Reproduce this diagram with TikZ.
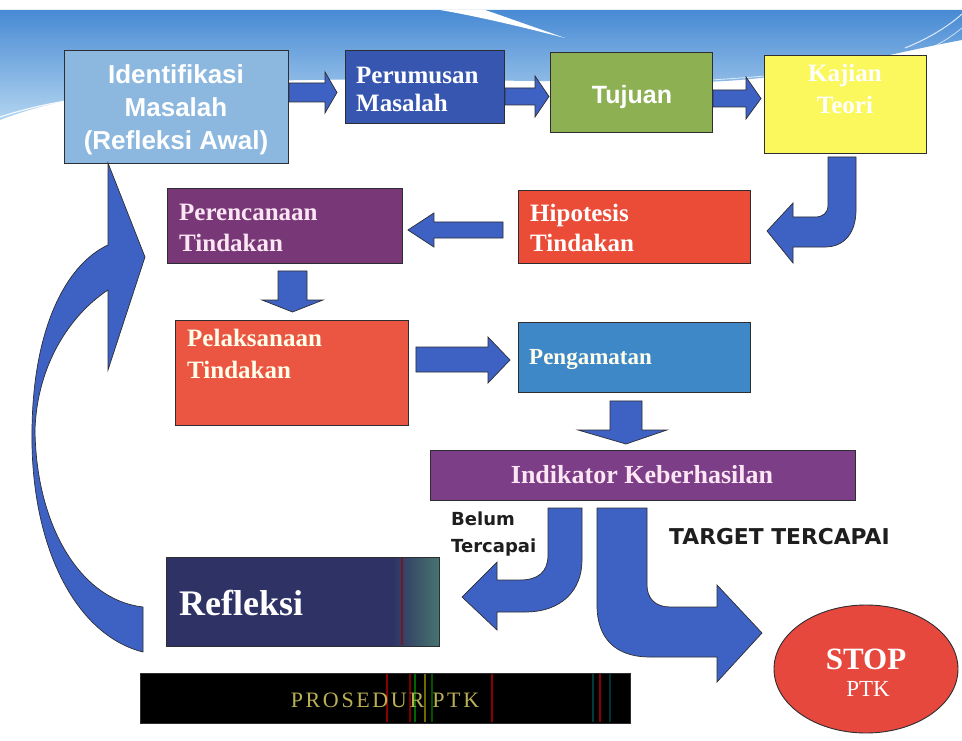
\documentclass[tikz,border=0pt]{standalone}
\usepackage{fontspec}
\setmainfont{Liberation Serif}
\newfontfamily\arialf{Liberation Sans}
\newfontfamily\tahf{DejaVu Sans}
\newfontfamily\barf{Liberation Serif}[LetterSpace=12]
\usetikzlibrary{shapes.geometric,calc}
\definecolor{bannertop}{RGB}{72,138,212}
\definecolor{bannerbot}{RGB}{178,212,240}
\definecolor{ablue}{RGB}{62,98,196}
\definecolor{cid}{RGB}{140,184,224}
\definecolor{cpr}{RGB}{55,86,176}
\definecolor{ctj}{RGB}{140,176,82}
\definecolor{ckj}{RGB}{250,248,92}
\definecolor{chp}{RGB}{234,76,56}
\definecolor{cpc}{RGB}{120,56,120}
\definecolor{cpl}{RGB}{234,86,66}
\definecolor{cpg}{RGB}{62,136,200}
\definecolor{cik}{RGB}{125,62,136}
\definecolor{crf}{RGB}{46,50,100}
\definecolor{crfend}{RGB}{70,115,110}
\definecolor{cstop}{RGB}{230,72,62}
\definecolor{bartext}{RGB}{185,175,85}
\definecolor{edge}{RGB}{45,45,50}
\definecolor{lbl}{RGB}{30,30,30}
\begin{document}
\begin{tikzpicture}[x=1pt,y=-1pt,
  box/.style={draw=edge, line width=0.9pt, inner sep=0pt, anchor=north west},
  blk/.style={fill=ablue, draw=edge, line width=0.7pt, line join=miter},
  wt/.style={text=white, inner sep=0pt},
]
\useasboundingbox (0,0) rectangle (962,741);
\fill[white] (0,0) rectangle (962,741);
% banner
\shade[top color=bannertop, bottom color=bannerbot]
  (0,10) -- (962,10) -- (962,40) .. controls (880,55) and (800,80) .. (700,82)
  .. controls (550,84) and (300,72) .. (150,88) .. controls (80,95) and (30,108) .. (0,120) -- cycle;
\fill[white] (440,10) -- (485,10) .. controls (500,15) and (525,24) .. (565,38)
  .. controls (515,25) and (470,15) .. (440,10) -- cycle;
\draw[white, line width=1.2pt, opacity=0.85] (0,117) .. controls (60,97) and (150,86) .. (300,83) .. controls (400,80) and (450,86) .. (550,84);
\draw[white, line width=0.8pt, opacity=0.7] (560,86) .. controls (650,84) and (720,80) .. (765,76);
\draw[white, line width=1pt, opacity=0.8] (905,48) .. controls (930,38) and (950,25) .. (962,14);
\draw[white, line width=0.8pt, opacity=0.7] (915,55) .. controls (940,45) and (952,36) .. (962,28);

% boxes
\node[box, fill=cid, minimum width=224pt, minimum height=113pt] (id) at (64,50) {};
\node[box, fill=cpr, minimum width=159pt, minimum height=73pt] (pr) at (345,50) {};
\node[box, fill=ctj, minimum width=162pt, minimum height=80pt] (tj) at (550,52) {};
\node[box, fill=ckj, minimum width=162pt, minimum height=98pt] (kj) at (764,55) {};
\node[box, fill=chp, minimum width=232pt, minimum height=73pt] (hp) at (518,190) {};
\node[box, fill=cpc, minimum width=235pt, minimum height=75pt] (pc) at (167,188) {};
\node[box, fill=cpl, minimum width=233pt, minimum height=105pt] (pl) at (175,320) {};
\node[box, fill=cpg, minimum width=232pt, minimum height=70pt] (pg) at (518,322) {};
\node[box, fill=cik, minimum width=425pt, minimum height=50pt] (ik) at (430,450) {};
\node[box, fill=crf, minimum width=273pt, minimum height=89pt] (rf) at (166,557) {};
\shade[left color=crf, right color=crfend] (392,557.5) rectangle (438.5,645.5);
\draw[red!60!black, line width=1.5pt, opacity=0.6] (402,558) -- (402,645);
\draw[edge, line width=0.9pt] (rf.north west) rectangle (rf.south east);
\node[draw=edge, line width=0.9pt, fill=cstop, ellipse, inner sep=0pt,
  minimum width=184pt, minimum height=128pt] (stop) at (866,669) {};
\node[box, fill=black, minimum width=490pt, minimum height=50pt] (bar) at (140,673) {};
\foreach \xx/\cc in {387/red!70!black, 410/red!60!black, 415/green!50!black, 425/olive, 432/green!40!black, 492/red!70!black, 593/teal!60!black, 600/red!70!black, 610/teal!50!black}
  \draw[\cc, line width=1.3pt, opacity=0.8] (\xx,674) -- (\xx,722);

% texts
\node[wt, align=center, font=\arialf\bfseries\fontsize{26}{33}\selectfont] (idt) at (176,110) {Identifikasi\\Masalah\\(Refleksi Awal)};
\node[wt, align=left, anchor=west, font=\bfseries\fontsize{25}{28}\selectfont] (prt) at (356,89) {Perumusan\\Masalah};
\node[wt, font=\arialf\bfseries\fontsize{25}{30}\selectfont] (tjt) at (632,97) {Tujuan};
\node[wt, align=center, font=\bfseries\fontsize{25}{32}\selectfont, text=white] (kjt) at (845,89) {Kajian\\Teori};
\node[wt, align=left, anchor=west, font=\bfseries\fontsize{25}{30}\selectfont] (hpt) at (530,228) {Hipotesis\\Tindakan};
\node[wt, align=left, anchor=west, font=\bfseries\fontsize{25}{31}\selectfont, text=white!90!magenta] (pct) at (179,227.5) {Perencanaan\\Tindakan};
\node[wt, align=left, anchor=west, font=\bfseries\fontsize{25}{32}\selectfont, text=white!92!yellow] (plt) at (187,354) {Pelaksanaan\\Tindakan};
\node[wt, anchor=west, font=\bfseries\fontsize{23}{28}\selectfont, text=white!92!yellow] (pgt) at (529,360) {Pengamatan};
\node[wt, font=\bfseries\fontsize{26}{30}\selectfont, text=white!90!magenta] (ikt) at (642,475) {Indikator Keberhasilan};
\node[wt, anchor=west, font=\bfseries\fontsize{36}{40}\selectfont] (rft) at (179,603) {Refleksi};
\node[wt, font=\bfseries\fontsize{31}{34}\selectfont] (stopt) at (866,659) {STOP};
\node[wt, font=\fontsize{23}{26}\selectfont] (ptkt) at (868,689) {PTK};
\node[inner sep=0pt, text=bartext, font=\barf\fontsize{22}{24}\selectfont] (bart) at (385,700) {PROSEDUR PTK};
\node[inner sep=0pt, anchor=west, align=left, text=lbl, font=\tahf\bfseries\fontsize{18}{27}\selectfont] (belt) at (451,534) {Belum\\Tercapai};
\node[inner sep=0pt, anchor=west, text=lbl, font=\tahf\bfseries\fontsize{21.8}{24}\selectfont] (tgt) at (669,537) {TARGET TERCAPAI};

% straight block arrows
\path[blk] let \p1=(id.east), \p2=(pr.west) in
  (\x1,-83pt) -- (\x2-20pt,-83pt) -- (\x2-20pt,-72pt) -- (\x2-8pt,-92.5pt)
  -- (\x2-20pt,-113pt) -- (\x2-20pt,-102pt) -- (\x1,-102pt) -- cycle;
\path[blk] let \p1=(pr.east), \p2=(tj.west) in
  (\x1,-88pt) -- (\x2-15pt,-88pt) -- (\x2-15pt,-76pt) -- (\x2-1pt,-96.5pt)
  -- (\x2-15pt,-117pt) -- (\x2-15pt,-105pt) -- (\x1,-105pt) -- cycle;
\path[blk] let \p1=(tj.east), \p2=(kj.west) in
  (\x1,-90pt) -- (\x2-18pt,-90pt) -- (\x2-18pt,-77pt) -- (\x2-3pt,-98.5pt)
  -- (\x2-18pt,-119pt) -- (\x2-18pt,-107pt) -- (\x1,-107pt) -- cycle;
\path[blk] let \p1=(hp.west), \p2=(pc.east) in
  (\x1-15pt,-222pt) -- (\x2+31pt,-222pt) -- (\x2+31pt,-213pt) -- (\x2+5pt,-230pt)
  -- (\x2+31pt,-247pt) -- (\x2+31pt,-238pt) -- (\x1-15pt,-238pt) -- cycle;
\path[blk] let \p1=(pc.south), \p2=(pl.north) in
  (278pt,\y1-7pt) -- (278pt,\y2+20pt) -- (262pt,\y2+20pt) -- (292.5pt,\y2+8pt)
  -- (323pt,\y2+20pt) -- (307pt,\y2+20pt) -- (307pt,\y1-7pt) -- cycle;
\path[blk] let \p1=(pl.east), \p2=(pg.west) in
  (\x1+7pt,-347pt) -- (\x2-30pt,-347pt) -- (\x2-30pt,-337pt) -- (\x2-8pt,-360pt)
  -- (\x2-30pt,-383pt) -- (\x2-30pt,-372pt) -- (\x1+7pt,-372pt) -- cycle;
\path[blk] let \p1=(pg.south), \p2=(ik.north) in
  (610pt,\y1-8pt) -- (610pt,\y2+20pt) -- (578pt,\y2+20pt) -- (626pt,\y2+6pt)
  -- (667pt,\y2+20pt) -- (642pt,\y2+20pt) -- (642pt,\y1-8pt) -- cycle;

% curved arrow Kajian -> Hipotesis
\path[blk] (828,157) -- (828,205) .. controls (828,213) and (823,217) .. (815,217)
  -- (793,217) -- (793,203) -- (767,231) -- (793,263) -- (793,247) -- (825,247)
  .. controls (845,247) and (856,232) .. (856,210) -- (856,157) -- cycle;
% Belum tercapai -> Refleksi
\path[blk] (548,508) -- (548,555) .. controls (548,572) and (538,580) .. (520,580)
  -- (497,580) -- (497,562) -- (462,597) -- (497,630) -- (497,612) -- (525,612)
  .. controls (562,612) and (582,590) .. (582,560) -- (582,508) -- cycle;
% Target tercapai -> STOP
\path[blk] (597,508) -- (597,605) .. controls (597,638) and (615,657) .. (650,657)
  -- (717,657) -- (717,682) -- (762,633) -- (717,585) -- (717,607) -- (670,607)
  .. controls (655,607) and (647,598) .. (647,585) -- (647,508) -- cycle;
% Refleksi -> Identifikasi (big return arrow)
\path[blk] (143,652) .. controls (75,635) and (30,545) .. (32,430)
  .. controls (33,330) and (65,265) .. (108,245)
  -- (108,163) -- (145,257) -- (108,370) -- (108,290)
  .. controls (70,315) and (37,365) .. (35,430)
  .. controls (36,525) and (80,600) .. (143,607) -- cycle;
\end{tikzpicture}
\end{document}
